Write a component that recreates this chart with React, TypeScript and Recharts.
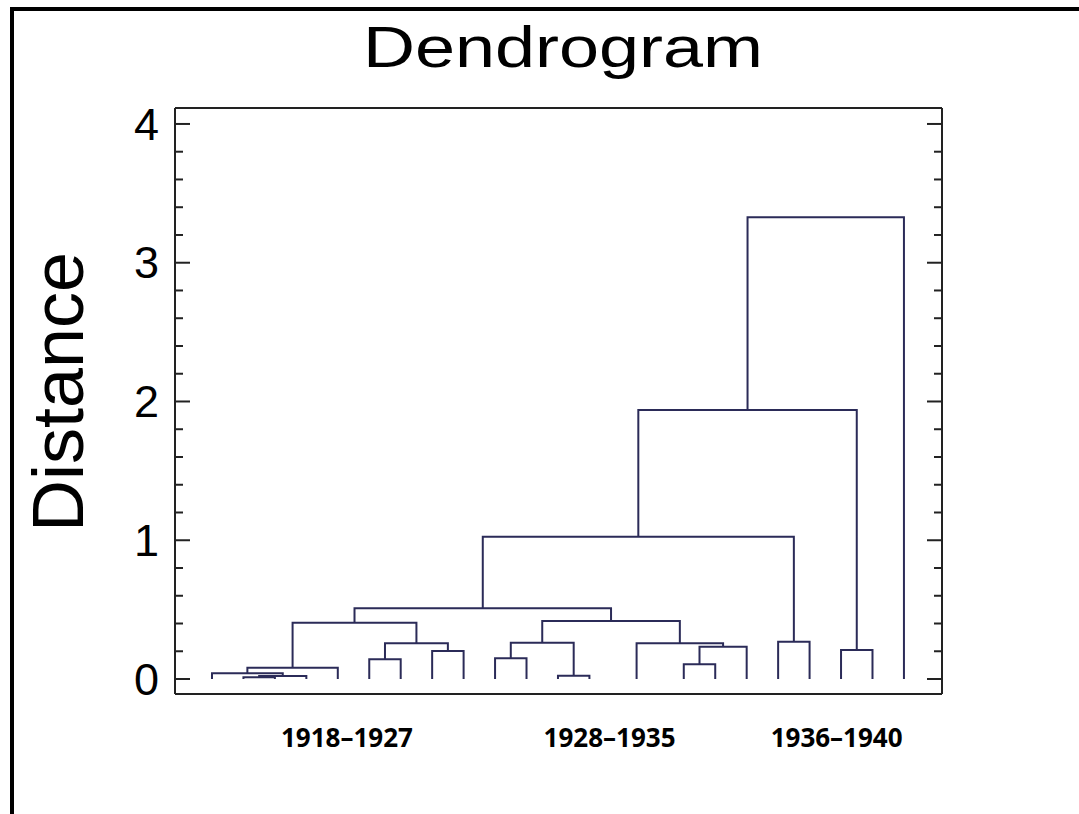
import { Line, LineChart, XAxis, YAxis } from "recharts";

// Leaves are numbered 0..22 from left to right.
const LEAF_COUNT = 23;

// Linkage: [left node, right node, distance]. Node ids >= 23 refer to
// earlier merges (id 23 + index in this list), scipy style.
const merges: [number, number, number][] = [
  [13, 14, 0.0],
  [1, 2, 0.012],
  [24, 3, 0.022],
  [11, 12, 0.024],
  [0, 25, 0.041],
  [27, 4, 0.081],
  [15, 16, 0.106],
  [5, 6, 0.142],
  [9, 10, 0.149],
  [7, 8, 0.202],
  [20, 21, 0.209],
  [29, 17, 0.233],
  [30, 32, 0.257],
  [23, 34, 0.257],
  [31, 26, 0.262],
  [18, 19, 0.269],
  [28, 35, 0.406],
  [37, 36, 0.418],
  [39, 40, 0.51],
  [41, 38, 1.026],
  [42, 33, 1.939],
  [43, 22, 3.328],
];

const yTicks = [
  0, 0.2, 0.4, 0.6, 0.8, 1, 1.2, 1.4, 1.6, 1.8, 2, 2.2, 2.4, 2.6, 2.8, 3, 3.2,
  3.4, 3.6, 3.8, 4,
];
const majorTicks = [0, 1, 2, 3, 4];

const groupLabels = ["1918–1927", "1928–1935", "1936–1940"];
const groupCenters = [4.29, 12.64, 19.86];

const LINE = "#2b2b58";
const AXIS = "#222";

// positions of every node (leaf index for leaves, midpoint for merges)
const pos: number[] = [];
const ht: number[] = [];
for (let i = 0; i < LEAF_COUNT; i++) {
  pos.push(i);
  ht.push(0);
}
merges.forEach(([a, b, h]) => {
  pos.push((pos[a] + pos[b]) / 2);
  ht.push(h);
});

const links = merges
  .filter(([, , h]) => h > 0)
  .map(([a, b, h]) => [
    { x: pos[a], y: ht[a] },
    { x: pos[a], y: h },
    { x: pos[b], y: h },
    { x: pos[b], y: ht[b] },
  ]);

function LeftTick(props: any) {
  const { x, y, payload } = props;
  const major = majorTicks.includes(payload.value);
  return (
    <g>
      <line x1={x} x2={x + (major ? 15 : 8)} y1={y} y2={y} stroke={AXIS} strokeWidth={2} />
      {major && (
        <text
          x={x - 16}
          y={y}
          dy={15.7}
          textAnchor="end"
          fontSize={45}
          fontFamily="Liberation Sans, Arial, sans-serif"
          fill="#000"
        >
          {payload.value}
        </text>
      )}
    </g>
  );
}

function RightTick(props: any) {
  const { x, y, payload } = props;
  const major = majorTicks.includes(payload.value);
  return (
    <line x1={x} x2={x - (major ? 15 : 8)} y1={y} y2={y} stroke={AXIS} strokeWidth={2} />
  );
}

function GroupTick(props: any) {
  const { x, y, index } = props;
  return (
    <text
      x={x}
      y={y}
      dy={53}
      textAnchor="middle"
      fontSize={26}
      fontWeight={700}
      fontFamily="Open Sans, sans-serif"
      fill="#000"
    >
      {groupLabels[index]}
    </text>
  );
}

export default function App() {
  return (
    <div
      style={{
        position: "absolute",
        left: 0,
        top: 0,
        width: 1079,
        height: 814,
        overflow: "hidden",
        background: "#fff",
      }}
    >
      <div
        style={{
          position: "absolute",
          left: 10,
          top: 7,
          width: 1200,
          height: 1000,
          border: "4px solid #000",
        }}
      />
      <svg
        width={1079}
        height={814}
        style={{ position: "absolute", left: 0, top: 0 }}
      >
        <text
          x={563}
          y={67}
          textAnchor="middle"
          fontSize={58}
          textLength={400}
          lengthAdjust="spacingAndGlyphs"
          fontFamily="Liberation Sans, Arial, sans-serif"
          fill="#000"
        >
          Dendrogram
        </text>
        <text
          transform="translate(83,392) rotate(-90)"
          textAnchor="middle"
          fontSize={72}
          fontFamily="Liberation Sans, Arial, sans-serif"
          fill="#000"
        >
          Distance
        </text>
      </svg>
      <div style={{ position: "absolute", left: 0, top: 0 }}>
        <LineChart
          width={1079}
          height={814}
          margin={{ top: 107, right: 136, bottom: 119, left: 174 }}
        >
          <XAxis
            xAxisId="bottom"
            dataKey="x"
            type="number"
            domain={[-1.176, 23.21]}
            ticks={groupCenters}
            interval={0}
            tick={GroupTick}
            tickLine={false}
            tickSize={0}
            tickMargin={0}
            height={1}
            allowDataOverflow
            axisLine={{ stroke: AXIS, strokeWidth: 2 }}
          />
          <XAxis
            xAxisId="top"
            orientation="top"
            dataKey="x"
            type="number"
            domain={[-1.176, 23.21]}
            ticks={groupCenters}
            tick={false}
            tickLine={false}
            height={1}
            allowDataOverflow
            axisLine={{ stroke: AXIS, strokeWidth: 2 }}
          />
          <YAxis
            yAxisId="left"
            type="number"
            domain={[-0.108, 4.115]}
            ticks={yTicks}
            interval={0}
            tick={LeftTick}
            tickLine={false}
            tickSize={0}
            tickMargin={0}
            width={1}
            allowDataOverflow
            axisLine={{ stroke: AXIS, strokeWidth: 2 }}
          />
          <YAxis
            yAxisId="right"
            orientation="right"
            type="number"
            domain={[-0.108, 4.115]}
            ticks={yTicks}
            interval={0}
            tick={RightTick}
            tickLine={false}
            tickSize={0}
            tickMargin={0}
            width={1}
            allowDataOverflow
            axisLine={{ stroke: AXIS, strokeWidth: 2 }}
          />
          {links.map((pts, i) => (
            <Line
              key={i}
              data={pts}
              dataKey="y"
              xAxisId="bottom"
              yAxisId="left"
              type="linear"
              stroke={LINE}
              strokeWidth={2}
              dot={false}
              activeDot={false}
              isAnimationActive={false}
            />
          ))}
        </LineChart>
      </div>
    </div>
  );
}
